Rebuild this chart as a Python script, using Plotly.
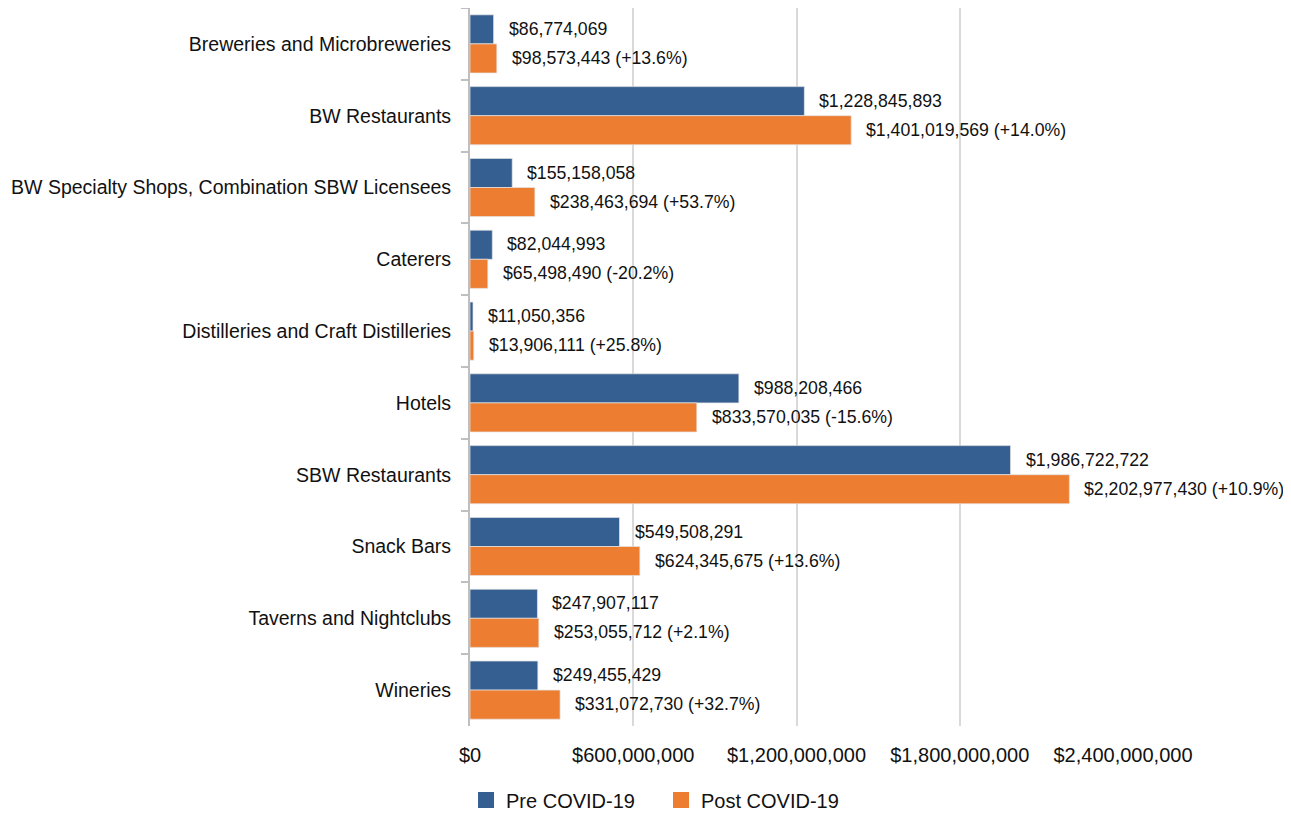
import plotly.graph_objects as go

categories = [
    "Breweries and Microbreweries",
    "BW Restaurants",
    "BW Specialty Shops, Combination SBW Licensees",
    "Caterers",
    "Distilleries and Craft Distilleries",
    "Hotels",
    "SBW Restaurants",
    "Snack Bars",
    "Taverns and Nightclubs",
    "Wineries",
]
pre_covid = [86774069, 1228845893, 155158058, 82044993, 11050356,
             988208466, 1986722722, 549508291, 247907117, 249455429]
post_covid = [98573443, 1401019569, 238463694, 65498490, 13906111,
              833570035, 2202977430, 624345675, 253055712, 331072730]
pct_change = ["+13.6%", "+14.0%", "+53.7%", "-20.2%", "+25.8%",
              "-15.6%", "+10.9%", "+13.6%", "+2.1%", "+32.7%"]
tick_vals = [0, 600000000, 1200000000, 1800000000, 2400000000]
tick_text = ["$0", "$600,000,000", "$1,200,000,000", "$1,800,000,000", "$2,400,000,000"]
series_names = ["Pre COVID-19", "Post COVID-19"]

FONT = "Liberation Sans, Arial, sans-serif"
BLUE = "#365F91"
ORANGE = "#ED7D31"
TXT = "#111111"

fig = go.Figure()
for name, vals, col in zip(series_names, [pre_covid, post_covid], [BLUE, ORANGE]):
    fig.add_trace(go.Bar(
        name=name, y=categories, x=vals, orientation="h", showlegend=False,
        marker=dict(color=col, line=dict(color="rgba(230,230,230,0.7)", width=1)),
        hoverinfo="x+y",
    ))
# legend entries with larger square symbols
for name, col in zip(series_names, [BLUE, ORANGE]):
    fig.add_trace(go.Scatter(
        name=name, x=[None], y=[None], mode="markers",
        marker=dict(symbol="square", size=21, color=col), showlegend=True,
    ))

annotations = []
for c, a, b, p in zip(categories, pre_covid, post_covid, pct_change):
    annotations.append(dict(x=a, y=c, xref="x", yref="y", text=f"${a:,}",
                            showarrow=False, xanchor="left", yanchor="middle",
                            xshift=13, yshift=15, font=dict(family=FONT, size=17.7, color=TXT)))
    annotations.append(dict(x=b, y=c, xref="x", yref="y", text=f"${b:,} ({p})",
                            showarrow=False, xanchor="left", yanchor="middle",
                            xshift=13, yshift=-14, font=dict(family=FONT, size=17.7, color=TXT)))

fig.update_layout(
    width=1283, height=808,
    barmode="group", bargap=0.19, bargroupgap=0,
    plot_bgcolor="white", paper_bgcolor="white",
    margin=dict(l=462, r=168, t=0, b=90),
    font=dict(family=FONT, size=19, color=TXT),
    annotations=annotations,
    legend=dict(orientation="h", xref="container", yref="container",
                x=0.357, xanchor="left", y=0.0198, yanchor="middle",
                font=dict(family=FONT, size=20, color=TXT),
                traceorder="normal", itemwidth=30, entrywidth=150, entrywidthmode="pixels"),
    xaxis=dict(range=[0, 2400000000], tickvals=tick_vals, ticktext=tick_text,
               showgrid=True, gridcolor="#D9D9D9", gridwidth=2, zeroline=False,
               showline=False, ticks="outside", ticklen=11, tickcolor="rgba(0,0,0,0)",
               tickfont=dict(family=FONT, size=20, color=TXT), automargin=False),
    yaxis=dict(autorange="reversed", showline=True, linecolor="#BFBFBF", linewidth=2,
               ticks="outside", tickson="boundaries", ticklen=7, tickcolor="#BFBFBF",
               tickwidth=2, tickfont=dict(family=FONT, size=19.5, color=TXT),
               ticklabelstandoff=13, automargin=False),
)

fig.write_html("out.html")
